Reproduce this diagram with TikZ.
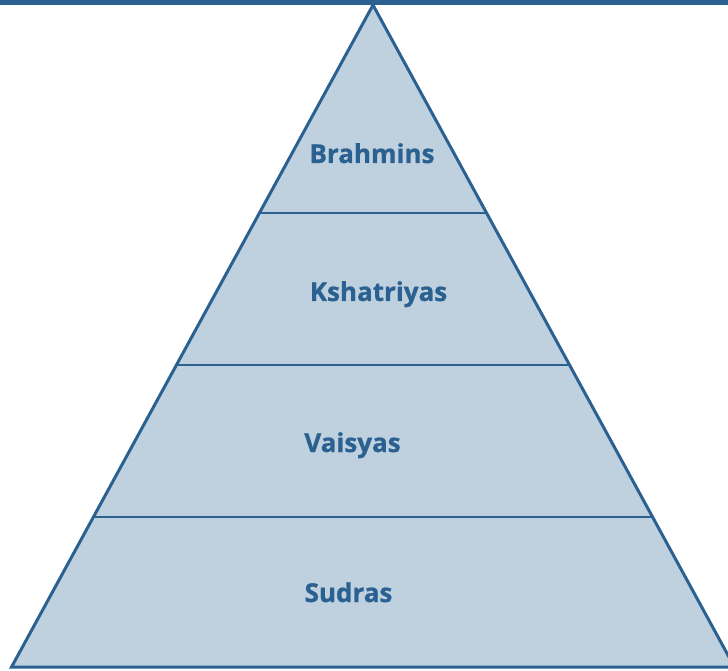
\documentclass[tikz,border=0pt]{standalone}
\usepackage{fontspec}
\setmainfont{Open Sans}[BoldFeatures={FakeBold=0.8}]
\definecolor{casteblue}{HTML}{2A6190}
\definecolor{castefill}{HTML}{BFD1DF}
\tikzset{
	caste/.style={anchor=base,inner sep=0pt,text=casteblue,font=\fontsize{26}{30}\selectfont\bfseries},
	layer/.style={draw=casteblue,line width=2pt}
}
\begin{document}
\begin{tikzpicture}[x=1pt,y=1pt]
	\def\k{0.546}
	\useasboundingbox (0,0) rectangle (728,670);
	\clip (0,0) rectangle (728,670);
	\fill[casteblue] (0,665) rectangle (728,670);
	\coordinate (apex) at (373,665);
	\coordinate (bl) at ({373-\k*662},3);
	\coordinate (br) at ({373+\k*662},3);
	\fill[castefill] (apex)--(br)--(bl)--cycle;
	% layer lines
	\foreach \y/\n in {457/a,305/b,153/c}{
		\coordinate (l\n) at ({373-\k*(665-\y)},\y);
		\coordinate (r\n) at ({373+\k*(665-\y)},\y);
		\draw[layer] (l\n)--(r\n);
	}
	\draw[casteblue,line width=3pt,line join=miter] (apex)--(br)--(bl)--cycle;
	\node[caste] (brahmins) at (372,507) {Brahmins};
	\node[caste] (kshatriyas) at (378.5,369) {Kshatriyas};
	\node[caste] (vaisyas) at (352.5,218) {Vaisyas};
	\node[caste] (sudras) at (348.5,68) {Sudras};
\end{tikzpicture}
\end{document}
